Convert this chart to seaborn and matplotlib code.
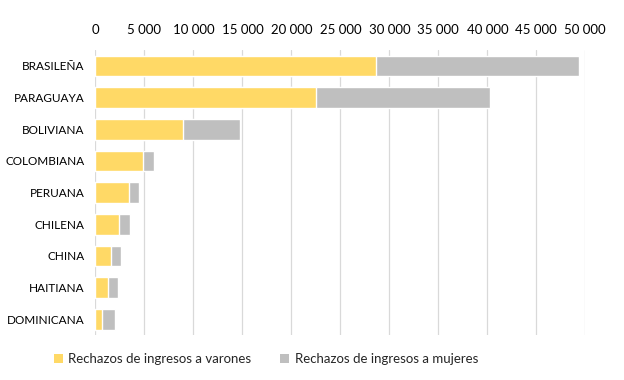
import matplotlib
matplotlib.use("Agg")
import matplotlib.pyplot as plt
from matplotlib.ticker import FuncFormatter, MultipleLocator
from matplotlib.patches import Patch
import seaborn as sns
import pandas as pd

categorias = ["BRASILEÑA", "PARAGUAYA", "BOLIVIANA", "COLOMBIANA", "PERUANA",
              "CHILENA", "CHINA", "HAITIANA", "DOMINICANA"]
varones = [28600, 22500, 8960, 4880, 3420, 2430, 1550, 1310, 630]
mujeres = [20800, 17750, 5780, 1090, 1050, 1120, 1020, 950, 1360]
serie_v = "Rechazos de ingresos a varones"
serie_m = "Rechazos de ingresos a mujeres"

COL_V = "#FFD966"
COL_M = "#BFBFBF"

df = pd.DataFrame({"cat": categorias, "v": varones, "m": mujeres})
df["total"] = df["v"] + df["m"]

sns.set_theme(style="white")
plt.rcParams["font.family"] = ["Lato", "DejaVu Sans"]

fig = plt.figure(figsize=(6.24, 3.8), dpi=100)
ax = fig.add_axes([0.153, 0.118, 0.785, 0.75])

sns.barplot(data=df, y="cat", x="total", color=COL_M, orient="h", width=0.65,
            saturation=1, ax=ax, zorder=3)
sns.barplot(data=df, y="cat", x="v", color=COL_V, orient="h", width=0.65,
            saturation=1, ax=ax, zorder=4)

ax.set_xlim(0, 50000)
ax.set_ylim(8.5, -0.5)
ax.xaxis.set_major_locator(MultipleLocator(5000))
ax.xaxis.set_major_formatter(FuncFormatter(lambda x, p: f"{int(x):,}".replace(",", " ")))
ax.xaxis.tick_top()
ax.tick_params(axis="x", length=0, pad=10, labelsize=9.5, colors="#000000")
ax.tick_params(axis="y", length=0, pad=8, labelsize=8.5, colors="#000000")
ax.grid(axis="x", color="#D9D9D9", linewidth=0.9, zorder=0)
ax.set_axisbelow(True)
for s in ax.spines.values():
    s.set_visible(False)
ax.set_xlabel("")
ax.set_ylabel("")

handles = [Patch(facecolor=COL_V, edgecolor="none", label=serie_v),
           Patch(facecolor=COL_M, edgecolor="none", label=serie_m)]
fig.legend(handles=handles, loc="center", bbox_to_anchor=(0.426, 0.055), ncol=2,
           frameon=False, fontsize=9.5, handlelength=0.7, handleheight=0.7,
           handletextpad=0.4, columnspacing=2.2)

fig.savefig("out.png", dpi=100)
